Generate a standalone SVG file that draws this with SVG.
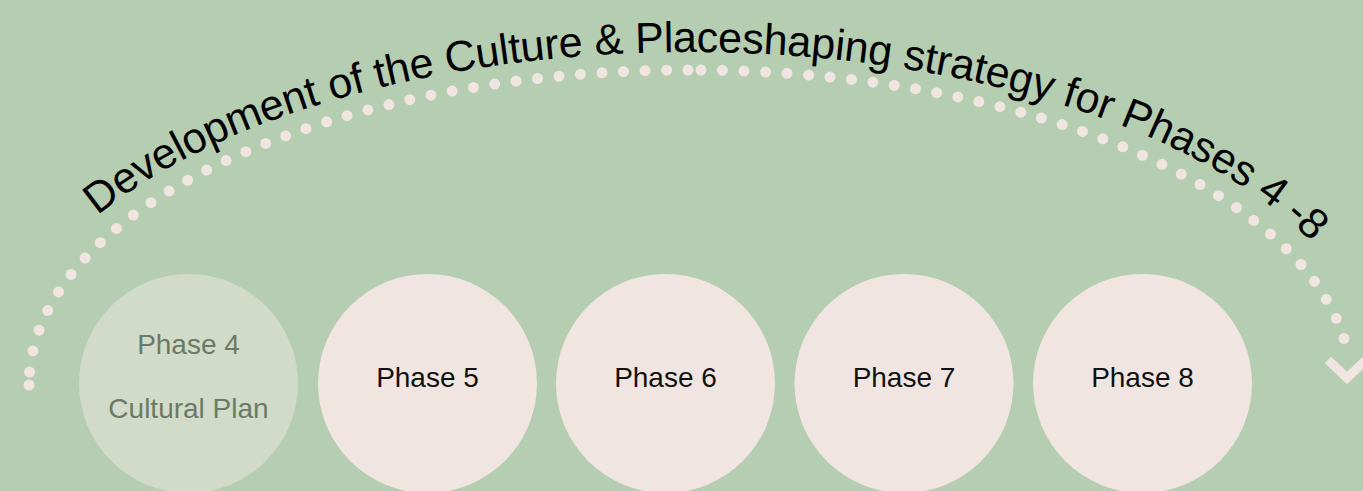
<svg xmlns="http://www.w3.org/2000/svg" width="1363" height="491" viewBox="0 0 1363 491">
  <style>
    .phase { fill: #f0e5e0; }
    .phase-done { fill: #d2dbc8; }
    .label { font-family: "Liberation Sans", Arial, sans-serif; font-size: 28px; text-anchor: middle; fill: #111111; }
    .label-done { fill: #6b7a66; }
    .dots { fill: none; stroke: #f0e5e0; stroke-width: 11; stroke-linecap: round; stroke-dasharray: 0 21.55; }
    .arrowhead { fill: none; stroke: #f0e5e0; stroke-width: 9; stroke-linejoin: miter; }
    .title { font-family: "Liberation Sans", Arial, sans-serif; font-size: 43px; fill: #000000; }
  </style>
  <defs>
    <!-- baseline for the curved heading -->
    <path id="title-arc" d="M 2,385 A 688 333 0 0 1 690,52 A 688 333 0 0 1 1378,385"/>
  </defs>

  <rect x="0" y="0" width="1363" height="491" fill="#b5cdb0"/>

  <!-- dotted timeline arc with arrowhead -->
  <g id="connectors">
    <path class="dots" d="M 688,70 A 661 315 0 0 0 29,385"/>
    <circle cx="29" cy="385" r="5.5" fill="#f0e5e0"/>
    <path class="dots" d="M 701,70 A 661 315 0 0 1 1348,354"/>
    <polyline class="arrowhead" points="1328,360 1347,378 1367,359"/>
  </g>

  <g id="title">
    <text class="title" text-anchor="middle" textLength="1290" lengthAdjust="spacing"><textPath href="#title-arc" startOffset="846">Development of the Culture &amp; Placeshaping strategy for Phases 4 -8</textPath></text>
  </g>

  <g id="phase-4">
    <circle class="phase-done" cx="188.5" cy="383.5" r="109.5"/>
    <text class="label label-done" x="188.5" y="354">Phase 4</text>
    <text class="label label-done" x="188.5" y="418">Cultural Plan</text>
  </g>
  <g id="phase-5">
    <circle class="phase" cx="427.5" cy="383.5" r="109.5"/>
    <text class="label" x="427.5" y="387">Phase 5</text>
  </g>
  <g id="phase-6">
    <circle class="phase" cx="665.5" cy="383.5" r="109.5"/>
    <text class="label" x="665.5" y="387">Phase 6</text>
  </g>
  <g id="phase-7">
    <circle class="phase" cx="904" cy="383.5" r="109.5"/>
    <text class="label" x="904" y="387">Phase 7</text>
  </g>
  <g id="phase-8">
    <circle class="phase" cx="1142.5" cy="383.5" r="109.5"/>
    <text class="label" x="1142.5" y="387">Phase 8</text>
  </g>
</svg>
